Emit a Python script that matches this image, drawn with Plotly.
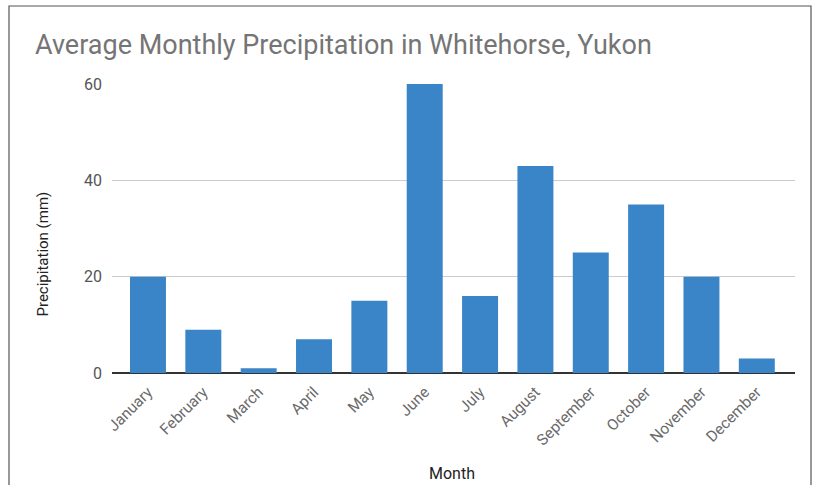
import plotly.graph_objects as go

months = ["January", "February", "March", "April", "May", "June", "July",
          "August", "September", "October", "November", "December"]
precip = [20, 9, 1, 7, 15, 60, 16, 43, 25, 35, 20, 3]
y_ticks = [0, 20, 40, 60]

W, H = 817, 485
L, R, T, B = 112, 22, 84, 112
pw, ph = W - L - R, H - T - B

def px_x(x):
    return (x - L) / pw

def px_y(y):
    return (H - B - y) / ph

fig = go.Figure()
fig.add_trace(go.Bar(x=months, y=precip, marker=dict(color="#3a84c8", line=dict(width=0)),
                     width=0.65))

fig.update_layout(
    width=W, height=H,
    margin=dict(l=L, r=R, t=T, b=B, autoexpand=False),
    paper_bgcolor="white", plot_bgcolor="white",
    font=dict(family="Roboto, Arial, sans-serif"),
    showlegend=False,
    title=dict(text="Average Monthly Precipitation in Whitehorse, Yukon",
               x=35 / W, xref="container", xanchor="left",
               y=1 - 45 / H, yref="container", yanchor="middle",
               font=dict(size=27, color="#757575")),
    xaxis=dict(range=[-0.65, 11.69], tickangle=-45,
               tickfont=dict(size=15.5, color="#6a6a6a"),
               showgrid=False, showline=False, zeroline=False, ticks="",
               ticklabelstandoff=6, automargin=False),
    yaxis=dict(range=[0, 60], tickvals=y_ticks,
               tickfont=dict(size=16, color="#555555"),
               showgrid=True, gridcolor="#cccccc", gridwidth=1,
               zeroline=True, zerolinecolor="#333333", zerolinewidth=1.5,
               showline=False, ticks="", ticklabelstandoff=9,
               automargin=False),
    bargap=0.35,
)

fig.add_annotation(text="Month", xref="paper", yref="paper",
                   x=px_x(452), y=px_y(473), xanchor="center", yanchor="middle",
                   showarrow=False, font=dict(size=16, color="#222222"))
fig.add_annotation(text="Precipitation (mm)", xref="paper", yref="paper",
                   x=px_x(42.5), y=px_y(254), xanchor="center", yanchor="middle",
                   textangle=-90, showarrow=False, font=dict(size=15, color="#222222"))

fig.add_shape(type="rect", xref="paper", yref="paper",
              x0=px_x(9), x1=px_x(811), y0=px_y(492), y1=px_y(6),
              line=dict(color="#555555", width=1.2), fillcolor="rgba(0,0,0,0)", layer="above")

fig.write_html("out.html", config={"displayModeBar": False},
               post_script="document.body.style.margin='0';document.body.style.overflow='hidden';")
